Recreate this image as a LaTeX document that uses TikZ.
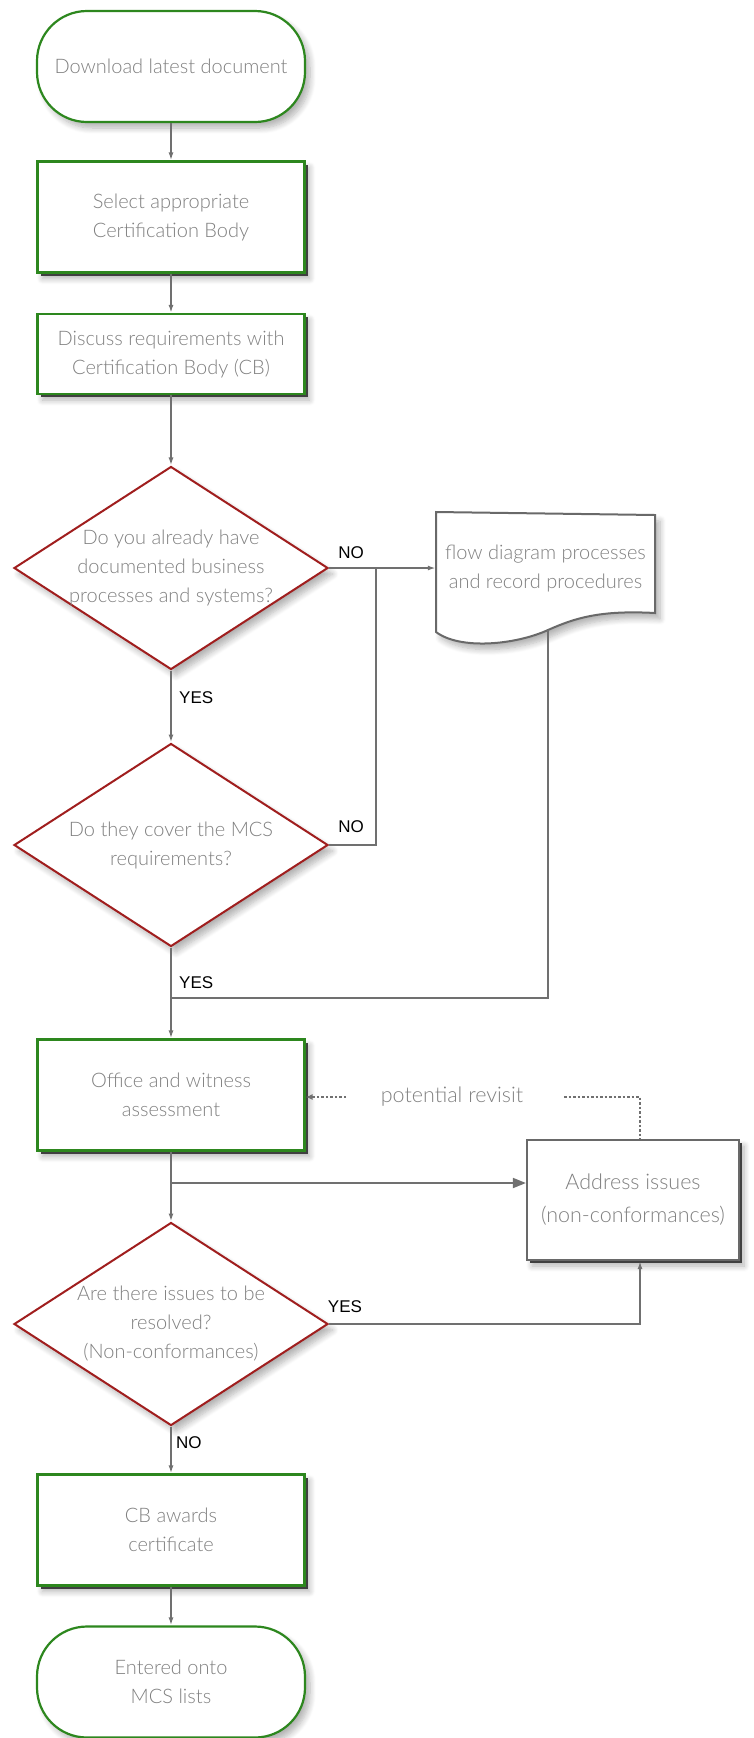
\documentclass[tikz,border=0pt]{standalone}
\usepackage{fontspec}
\usetikzlibrary{shapes.geometric,arrows.meta,shadows,shadows.blur}
\IfFontExistsTF{Lato Light}{\newfontfamily\thinfont{Lato Light}}{\newfontfamily\thinfont{Lato}}
\newfontfamily\lblfont{Liberation Sans}
\definecolor{boxgreen}{RGB}{45,135,30}
\definecolor{dred}{RGB}{160,30,30}
\definecolor{linegray}{RGB}{112,112,112}
\definecolor{txtgray}{RGB}{128,128,128}
\definecolor{bordergray}{RGB}{105,105,105}
\tikzset{
  txt/.style={font=\thinfont\fontsize{20}{29}\selectfont, text=txtgray, align=center},
  bigtxt/.style={font=\thinfont\fontsize{21.5}{33}\selectfont, text=txtgray, align=center},
  softshadow/.style={blur shadow={shadow xshift=5pt, shadow yshift=-6pt, shadow blur radius=6pt, shadow blur steps=8, shadow opacity=30}},
  hardshadow/.style={drop shadow={shadow xshift=3pt, shadow yshift=-3pt, fill=black!75, opacity=1}},
  procbox/.style={txt, draw=boxgreen, line width=2.2pt, fill=white, minimum width=267pt, minimum height=111pt, inner sep=0pt, softshadow, hardshadow},
  termbox/.style={txt, draw=boxgreen, line width=2.2pt, fill=white, rounded corners=50pt, minimum width=268pt, minimum height=111pt, inner sep=0pt, softshadow},
  decision/.style={shape=diamond, draw=dred, line width=2pt, fill=white, minimum width=314pt, minimum height=203pt, inner sep=0pt, softshadow},
  graybox/.style={bigtxt, draw=bordergray, line width=2.2pt, fill=white, minimum width=212pt, minimum height=120pt, inner sep=0pt, softshadow, hardshadow},
  docshape/.style={draw=bordergray, line width=2pt, fill=white, softshadow},
  conn/.style={draw=linegray, line width=1.8pt},
  arr/.style={conn, -{Latex[length=8pt,width=5pt]}},
  bigarr/.style={conn, -{Triangle[length=13pt,width=10pt]}},
  dotline/.style={draw=linegray, line width=2pt, dash pattern=on 2.5pt off 2pt},
  dotarr/.style={dotline, -{Latex[length=7pt,width=6pt]}},
  lbl/.style={font=\lblfont\fontsize{17}{20}\selectfont, text=black, inner sep=0pt},
}
\begin{document}
\begin{tikzpicture}[x=1pt,y=-1pt]
\useasboundingbox (0,0) rectangle (753,1738);
% nodes
\node[termbox] (t1) at (171,66.5) {Download latest document};
\node[procbox] (s1) at (171,217) {Select appropriate\\Certification Body};
\node[procbox, minimum height=80pt] (s2) at (171,354) {Discuss requirements with\\Certification Body (CB)};
\node[decision, label={[txt]center:{Do you already have\\documented business\\processes and systems?}}] (d1) at (171,568) {};
\node[decision, label={[txt]center:{Do they cover the MCS\\requirements?}}] (d2) at (171,845) {};
% document shape
\draw[docshape] (436,512) -- (655,515) -- (655,613)
   .. controls (600,610) and (575,618) .. (548,630)
   .. controls (515,645) and (460,650) .. (436,632) -- cycle;
\node[txt, minimum width=219pt, inner sep=0pt] (doc) at (545.5,568) {flow diagram processes\\and record procedures};
\coordinate (docb) at (548,630);
\node[procbox] (office) at (171,1095) {Office and witness\\assessment};
\node[bigtxt] (pr) at (452,1097) {potential revisit};
\node[graybox] (address) at (633,1200) {Address issues\\(non-conformances)};
\node[decision, label={[txt]center:{Are there issues to be\\resolved?\\(Non-conformances)}}] (d3) at (171,1324) {};
\node[procbox] (cb) at (171,1530) {CB awards\\certificate};
\node[termbox] (t2) at (171,1682) {Entered onto\\MCS lists};
% helper coordinates
\coordinate (j1) at (376,568);
\coordinate (j2) at (171,998);
\coordinate (j3) at (171,1183);
\coordinate (ax) at (640,1097);
\coordinate (pr1) at (346,1097);
\coordinate (pr2) at (564,1097);
% connectors
\draw[arr] (t1) -- (s1);
\draw[arr] (s1) -- (s2);
\draw[arr] (s2) -- (d1);
\draw[arr] (d1) -- (d2);
\draw[arr] (d1.east) -- (doc.west);
\draw[conn] (d2.east) -- (d2.east -| j1) -- (j1);
\draw[conn] (docb) -- (docb |- j2) -- (j2);
\draw[arr] (d2) -- (office);
\draw[arr] (office) -- (d3);
\draw[bigarr] (j3) -- (j3 -| address.west);
\draw[arr] (d3.east) -- (d3.east -| ax) -- (ax |- address.south);
\draw[arr] (d3) -- (cb);
\draw[arr] (cb) -- (t2);
\draw[dotarr] (pr1) -- (office.east |- pr1);
\draw[dotline] (pr2) -- (ax) -- (ax |- address.north);
% labels
\node[lbl] (no1) at (351,553) {NO};
\node[lbl] (no2) at (351,827) {NO};
\node[lbl, anchor=west] (yes1) at (179,698) {YES};
\node[lbl, anchor=west] (yes2) at (179,983) {YES};
\node[lbl] (yes3) at (345,1307) {YES};
\node[lbl, anchor=west] (no3) at (176,1443) {NO};
\end{tikzpicture}
\end{document}
